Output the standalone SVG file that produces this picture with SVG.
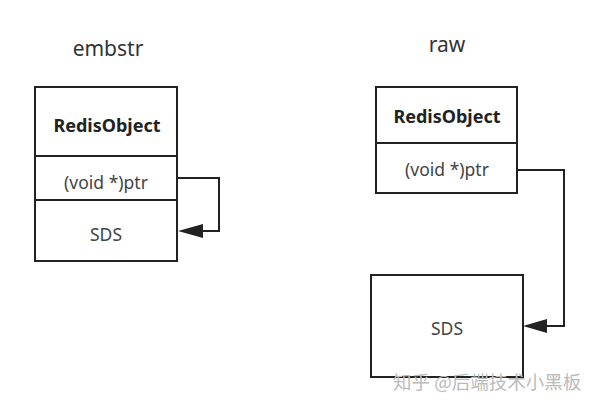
<svg xmlns="http://www.w3.org/2000/svg" width="600" height="400" viewBox="0 0 600 400">
<style>
.box{fill:#fff;stroke:#222;stroke-width:2}
.t{font-family:"Noto Sans","Open Sans",sans-serif;font-size:17.5px;fill:#444;text-anchor:middle;dominant-baseline:central}
.b{font-weight:bold;fill:#222;font-size:18px}
.ttl{font-family:"Noto Sans","Open Sans",sans-serif;font-size:21px;fill:#333;text-anchor:middle}
.wm{font-family:"Noto Sans CJK SC",sans-serif;font-size:18.5px;fill:#bbb}
.c{fill:none;stroke:#222;stroke-width:2}
</style>
<rect width="600" height="400" fill="#fff"/>
<text class="ttl" x="108" y="56">embstr</text>
<text class="ttl" x="447" y="52">raw</text>
<g id="embstr-obj">
<rect class="box" x="35" y="87" width="142" height="174"/>
<line class="c" x1="35" y1="156" x2="177" y2="156"/>
<line class="c" x1="35" y1="200" x2="177" y2="200"/>
<text class="t b" x="107" y="125">RedisObject</text>
<text class="t" x="106" y="182">(void *)ptr</text>
<text class="t" x="106" y="234">SDS</text>
</g>
<g id="raw-obj">
<rect class="box" x="376" y="87" width="141" height="106"/>
<line class="c" x1="376" y1="143" x2="517" y2="143"/>
<text class="t b" x="447" y="116">RedisObject</text>
<text class="t" x="447" y="169">(void *)ptr</text>
</g>
<g id="raw-sds">
<rect class="box" x="371" y="275" width="152" height="102"/>
<text class="t" x="447" y="328">SDS</text>
</g>
<g id="connectors">
<path d="M177,178 H219 V231 H201" class="c"/>
<path d="M203,224 L178,231 L203,238 z" fill="#222"/>
<path d="M517,170 H564 V326 H546" class="c"/>
<path d="M547,319 L523,326 L547,333 z" fill="#222"/>
</g>
<text class="wm" x="393" y="389">知乎 @后端技术小黑板</text>
</svg>
